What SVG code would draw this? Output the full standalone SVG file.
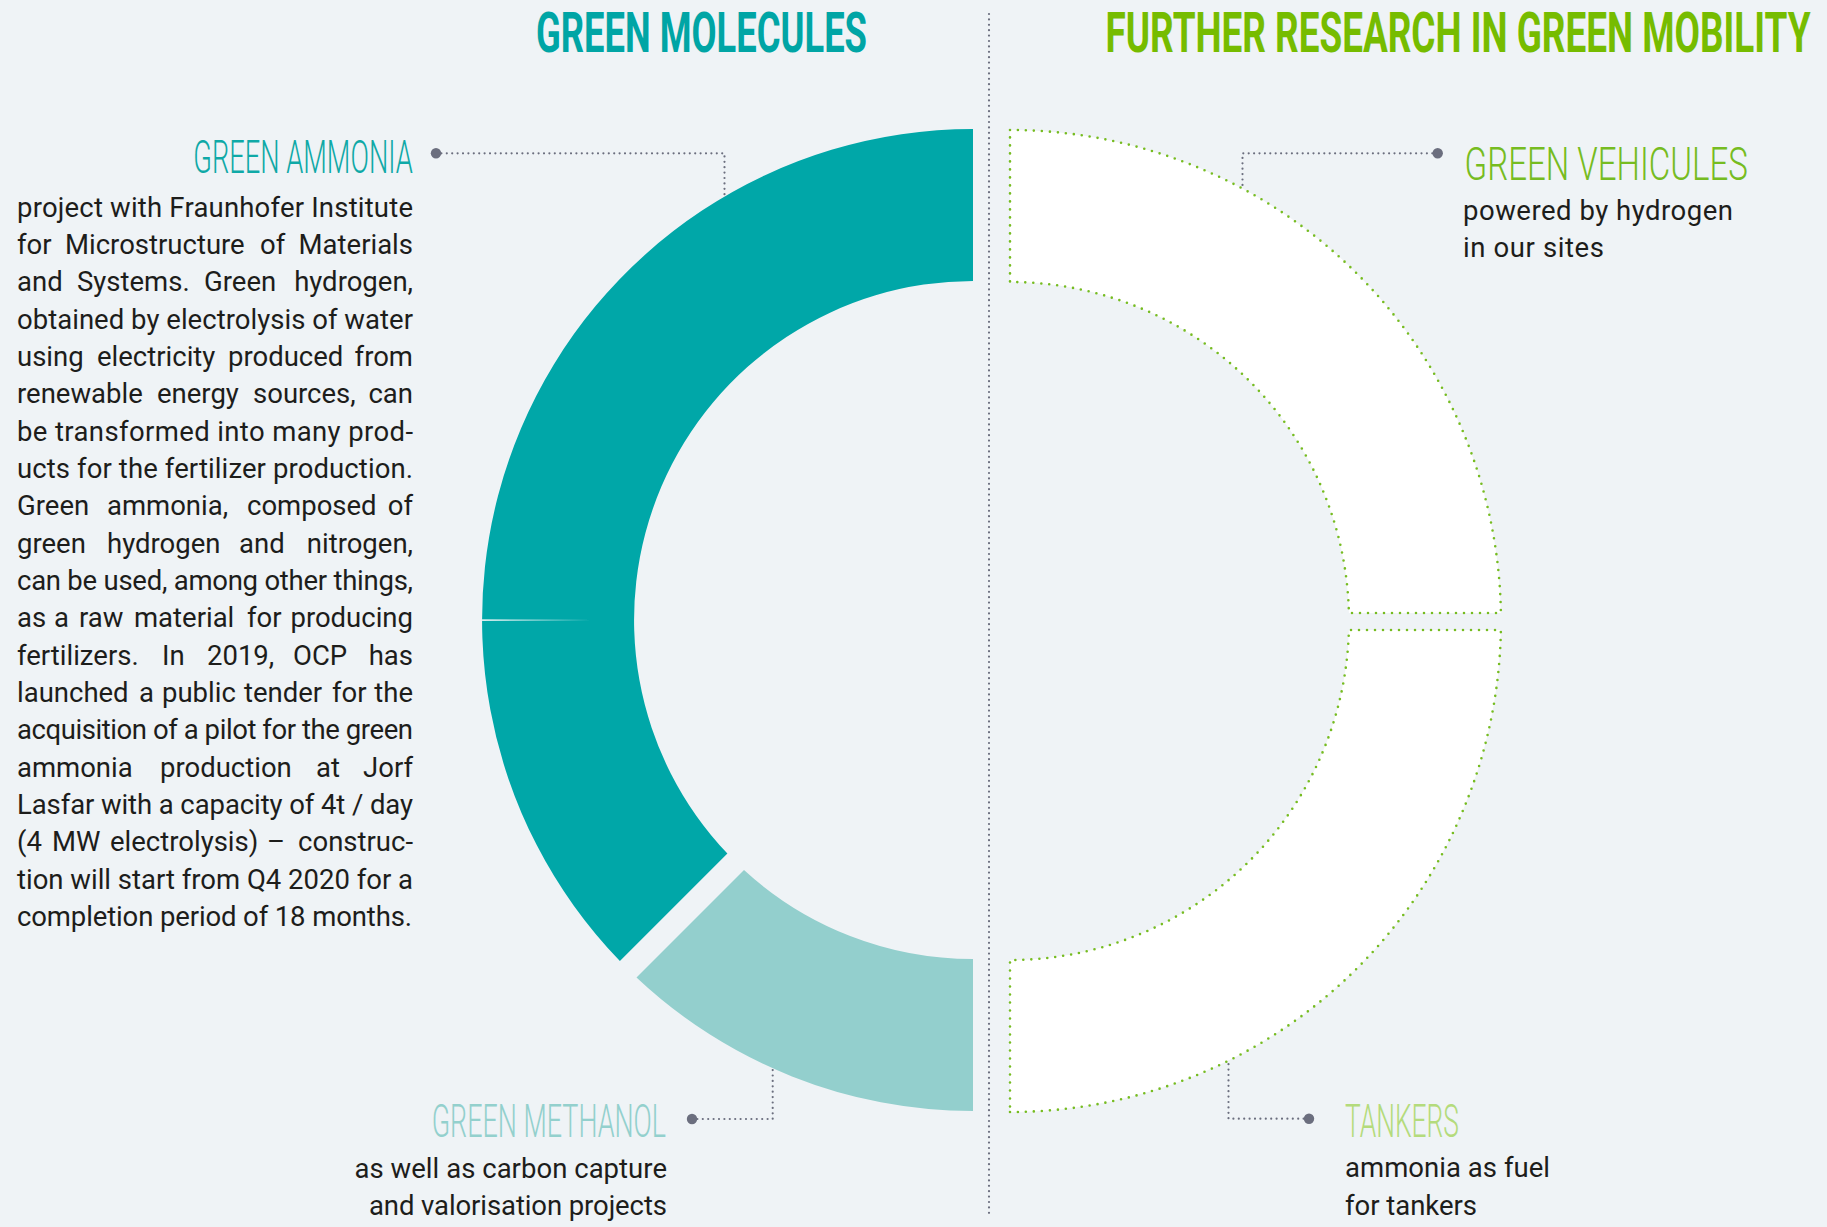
<svg xmlns="http://www.w3.org/2000/svg" width="1827" height="1227" viewBox="0 0 1827 1227">
<style>
.body{font-family:Roboto,"Liberation Sans",sans-serif;font-size:27.5px;fill:#1d1d1b}
.e{text-anchor:end}
.title{font-family:Roboto,"Liberation Sans",sans-serif;font-weight:700;font-size:55px}
.label{font-family:Roboto,"Liberation Sans",sans-serif;font-weight:300;font-size:46px}
.conn{fill:none;stroke:#6b6e7e;stroke-width:2.2;stroke-linecap:round;stroke-dasharray:0 5.4}
.dot{fill:#6b6e7e}
.ring{fill:#ffffff;stroke:#76bc21;stroke-width:2.6;stroke-linecap:round;stroke-dasharray:0 8}
</style>
<rect x="0" y="0" width="1827" height="1227" fill="#eff3f6"/>

<g id="connectors">
<path class="conn" d="M989 14 V1215"/>
<path class="conn" d="M436 153.3 H724.5 V196.8"/>
<circle class="dot" cx="436" cy="153.3" r="5.2"/>
<path class="conn" d="M1437.7 153.3 H1242.5 V188"/>
<circle class="dot" cx="1437.7" cy="153.3" r="5.2"/>
<path class="conn" d="M692 1119 H772.7 V1068.5"/>
<circle class="dot" cx="692" cy="1119" r="5.2"/>
<path class="conn" d="M1309 1118.7 H1228.5 V1061.5"/>
<circle class="dot" cx="1309" cy="1118.7" r="5.2"/>
</g>

<g id="title-green-molecules">
<text class="title" transform="translate(536 52) scale(0.62 1)" x="0" y="0" fill="#00a5a5" textLength="533.9" lengthAdjust="spacingAndGlyphs">GREEN MOLECULES</text>
</g>
<g id="title-further-research">
<text class="title" transform="translate(1105.5 52) scale(0.62 1)" x="0" y="0" fill="#76bc00" textLength="1137.1" lengthAdjust="spacingAndGlyphs">FURTHER RESEARCH IN GREEN MOBILITY</text>
</g>

<g id="segment-green-ammonia">
<path d="M973 129 A491 491 0 0 0 619.9 961.1 L727.4 853.6 A339 339 0 0 1 973 281 Z" fill="#00a7a8"/>
<polygon points="482,619.2 592,620 482,621" fill="#d6eeee"/>
</g>
<g id="segment-green-methanol">
<path d="M636.5 977.5 A491 491 0 0 0 973 1111 L973 959 A339 339 0 0 1 744 870 Z" fill="#93cfcd"/>
</g>
<g id="segment-green-vehicules">
<path class="ring" d="M1010 130 A491 491 0 0 1 1500.9 613 L1348.9 613 A339 339 0 0 0 1010 282 Z"/>
</g>
<g id="segment-tankers">
<path class="ring" d="M1010 1112 A491 491 0 0 0 1500.9 630 L1348.9 630 A339 339 0 0 1 1010 960 Z"/>
</g>

<g id="node-green-ammonia">
<text class="label" transform="translate(193.3 173.3) scale(0.66 1)" x="0" y="0" fill="#0fa9a7" textLength="332.6" lengthAdjust="spacingAndGlyphs">GREEN AMMONIA</text>
<text class="body" x="17" y="216.7" textLength="396" lengthAdjust="spacing">project with Fraunhofer Institute</text>
<text class="body" y="254"><tspan x="17">for</tspan><tspan x="65">Microstructure</tspan><tspan x="260">of</tspan><tspan x="413" class="e">Materials</tspan></text>
<text class="body" y="291.4"><tspan x="17">and</tspan><tspan x="77">Systems.</tspan><tspan x="204">Green</tspan><tspan x="413" class="e">hydrogen,</tspan></text>
<text class="body" x="17" y="328.7" textLength="396" lengthAdjust="spacing">obtained by electrolysis of water</text>
<text class="body" y="366"><tspan x="17">using</tspan><tspan x="97">electricity</tspan><tspan x="228">produced</tspan><tspan x="413" class="e">from</tspan></text>
<text class="body" y="403.4"><tspan x="17">renewable</tspan><tspan x="157">energy</tspan><tspan x="253">sources,</tspan><tspan x="413" class="e">can</tspan></text>
<text class="body" x="17" y="440.7" textLength="396" lengthAdjust="spacing">be transformed into many prod-</text>
<text class="body" x="17" y="478" textLength="396" lengthAdjust="spacing">ucts for the fertilizer production.</text>
<text class="body" y="515.4"><tspan x="17">Green</tspan><tspan x="107">ammonia,</tspan><tspan x="247">composed</tspan><tspan x="413" class="e">of</tspan></text>
<text class="body" y="552.7"><tspan x="17">green</tspan><tspan x="107">hydrogen</tspan><tspan x="239">and</tspan><tspan x="413" class="e">nitrogen,</tspan></text>
<text class="body" x="17" y="590" textLength="396" lengthAdjust="spacing">can be used, among other things,</text>
<text class="body" y="627.4"><tspan x="17">as</tspan><tspan x="54">a</tspan><tspan x="79">raw</tspan><tspan x="134">material</tspan><tspan x="247">for</tspan><tspan x="413" class="e">producing</tspan></text>
<text class="body" y="664.7"><tspan x="17">fertilizers.</tspan><tspan x="162">In</tspan><tspan x="207">2019,</tspan><tspan x="293">OCP</tspan><tspan x="413" class="e">has</tspan></text>
<text class="body" y="702"><tspan x="17">launched</tspan><tspan x="139">a</tspan><tspan x="162">public</tspan><tspan x="244">tender</tspan><tspan x="332">for</tspan><tspan x="413" class="e">the</tspan></text>
<text class="body" x="17" y="739.4" textLength="396" lengthAdjust="spacing">acquisition of a pilot for the green</text>
<text class="body" y="776.7"><tspan x="17">ammonia</tspan><tspan x="160">production</tspan><tspan x="316">at</tspan><tspan x="413" class="e">Jorf</tspan></text>
<text class="body" x="17" y="814" textLength="396" lengthAdjust="spacing">Lasfar with a capacity of 4t / day</text>
<text class="body" y="851.4"><tspan x="17">(4</tspan><tspan x="52">MW</tspan><tspan x="110">electrolysis)</tspan><tspan x="267">–</tspan><tspan x="413" class="e">construc-</tspan></text>
<text class="body" x="17" y="888.7" textLength="396" lengthAdjust="spacing">tion will start from Q4 2020 for a</text>
<text class="body" x="17" y="926" textLength="395" lengthAdjust="spacing">completion period of 18 months.</text>
</g>

<g id="node-green-methanol">
<text class="label" transform="translate(431.7 1137.3) scale(0.66 1)" x="0" y="0" fill="#93d0cd" textLength="355" lengthAdjust="spacingAndGlyphs">GREEN METHANOL</text>
<text class="body" x="354.5" y="1178" textLength="312.5" lengthAdjust="spacing">as well as carbon capture</text>
<text class="body" x="369" y="1215" textLength="298" lengthAdjust="spacing">and valorisation projects</text>
</g>

<g id="node-green-vehicules">
<text class="label" transform="translate(1464.5 180) scale(0.66 1)" x="0" y="0" fill="#76bc21" textLength="429.5" lengthAdjust="spacingAndGlyphs" font-size="48">GREEN VEHICULES</text>
<text class="body" x="1463" y="220" textLength="270" lengthAdjust="spacing">powered by hydrogen</text>
<text class="body" x="1463" y="257" textLength="141" lengthAdjust="spacing">in our sites</text>
</g>

<g id="node-tankers">
<text class="label" transform="translate(1345 1137) scale(0.66 1)" x="0" y="0" fill="#b4db7c" textLength="172.7" lengthAdjust="spacingAndGlyphs">TANKERS</text>
<text class="body" x="1345" y="1177" textLength="205" lengthAdjust="spacing">ammonia as fuel</text>
<text class="body" x="1345" y="1215" textLength="132" lengthAdjust="spacing">for tankers</text>
</g>
</svg>
